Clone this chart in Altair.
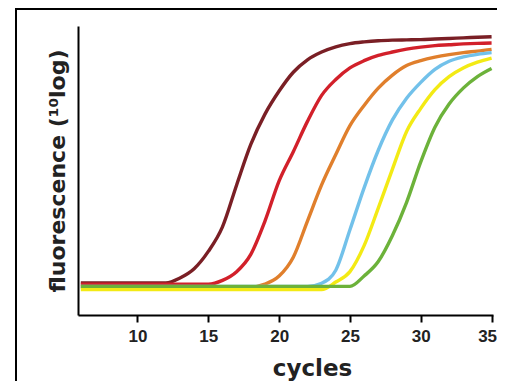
import altair as alt
import pandas as pd

cycles = [6, 7, 8, 9, 10, 11, 12, 13, 14, 15, 16, 17, 18, 19, 20,
          21, 22, 23, 24, 25, 26, 27, 28, 29, 30, 31, 32, 33, 34, 35]

maroon = [11.1, 11.1, 11.1, 11.1, 11.1, 11.1, 11.1, 12.8, 16, 22, 30.5, 45, 59, 69.5, 77.5,
          84, 88.3, 91, 92.8, 93.9, 94.5, 94.9, 95.1, 95.2, 95.3, 95.5, 95.7, 95.9, 96.1, 96.3]
red = [10.7, 10.7, 10.7, 10.7, 10.7, 10.7, 10.7, 10.7, 10.7, 10.7, 12, 15, 21, 32.5, 46.4,
       56.5, 67, 76, 81.5, 85.5, 88, 89.8, 91, 92, 92.7, 93.2, 93.5, 93.8, 94, 94.1]
orange = [9.7, 9.7, 9.7, 9.7, 9.7, 9.7, 9.7, 9.7, 9.7, 9.7, 9.7, 9.7, 9.7, 10.7, 13.5,
          20, 32.5, 45, 55.5, 65.5, 72.5, 78.5, 83, 86.3, 88, 89.2, 90.1, 90.8, 91.3, 91.9]
blue = [9.9, 9.9, 9.9, 9.9, 9.9, 9.9, 9.9, 9.9, 9.9, 9.9, 9.9, 9.9, 9.9, 9.9, 9.9,
        9.9, 9.9, 11, 15.5, 29.5, 44, 57, 67.5, 75, 80.5, 85, 87.8, 89.3, 90.2, 90.8]
yellow = [8.8, 8.8, 8.8, 8.8, 8.8, 8.8, 8.8, 8.8, 8.8, 8.8, 8.8, 8.8, 8.8, 8.8, 8.8,
          8.8, 8.8, 8.8, 11.4, 15, 24, 37, 50.5, 63.5, 71.5, 78, 82.5, 85.5, 87.5, 88.9]
green = [9.9, 9.9, 9.9, 9.9, 9.9, 9.9, 9.9, 9.9, 9.9, 9.9, 9.9, 9.9, 9.9, 9.9, 9.9,
         9.9, 9.9, 9.9, 9.9, 9.9, 13.5, 18.5, 27.5, 39, 53, 65, 73, 78.5, 82.5, 85.3]

series_names = ["maroon", "red", "orange", "blue", "yellow", "green"]
series_colors = ["#7a1f25", "#d2202a", "#e07f2c", "#72c1ea", "#f3ea14", "#6cb23a"]
series_values = [maroon, red, orange, blue, yellow, green]
tick_values = [10, 15, 20, 25, 30, 35]

rows = []
for name, vals in zip(series_names, series_values):
    for c, v in zip(cycles, vals):
        rows.append({"series": name, "cycle": c, "fluor": v})
df = pd.DataFrame(rows)

lines = alt.Chart(df).mark_line(
    strokeWidth=3.4, interpolate="monotone", strokeCap="butt"
).encode(
    x=alt.X(
        "cycle:Q",
        scale=alt.Scale(domain=[5.8, 35.1], nice=False, zero=False),
        axis=alt.Axis(
            values=tick_values, title="cycles", grid=False,
            domainColor="black", domainWidth=2,
            tickColor="black", tickWidth=2, tickSize=7,
            labelFont="Liberation Sans", labelFontWeight="bold", labelFontSize=17,
            labelColor="#222222", labelPadding=6,
            labelFlush=3, labelFlushOffset=5,
            titleFont="DejaVu Sans", titleFontWeight="bold", titleFontSize=23,
            titleColor="#222222", titleX=234, titleY=60,
            titleBaseline="alphabetic", titleAlign="center",
        ),
    ),
    y=alt.Y(
        "fluor:Q",
        scale=alt.Scale(domain=[0, 100], nice=False),
        axis=alt.Axis(
            title="fluorescence (¹⁰log)", labels=False, ticks=False, grid=False,
            domainColor="black", domainWidth=2,
            titleFont="DejaVu Sans", titleFontWeight="bold", titleFontSize=22,
            titleColor="#222222", titlePadding=9,
        ),
    ),
    color=alt.Color(
        "series:N",
        scale=alt.Scale(domain=series_names, range=series_colors),
        legend=None,
    ),
)

frame = alt.Chart(pd.DataFrame({"f": [0]})).mark_rect(
    fillOpacity=0, stroke="black", strokeWidth=2
).encode(
    x=alt.value(-62), x2=alt.value(440), y=alt.value(-17), y2=alt.value(420)
)

chart = alt.layer(frame, lines).properties(
    width=415,
    height=289,
    autosize=alt.AutoSizeParams(type="none"),
    padding={"left": 70, "top": 18, "right": 4, "bottom": 66},
).configure_view(strokeWidth=0)

chart.save("out.html", embed_options={"renderer": "svg", "actions": False})
